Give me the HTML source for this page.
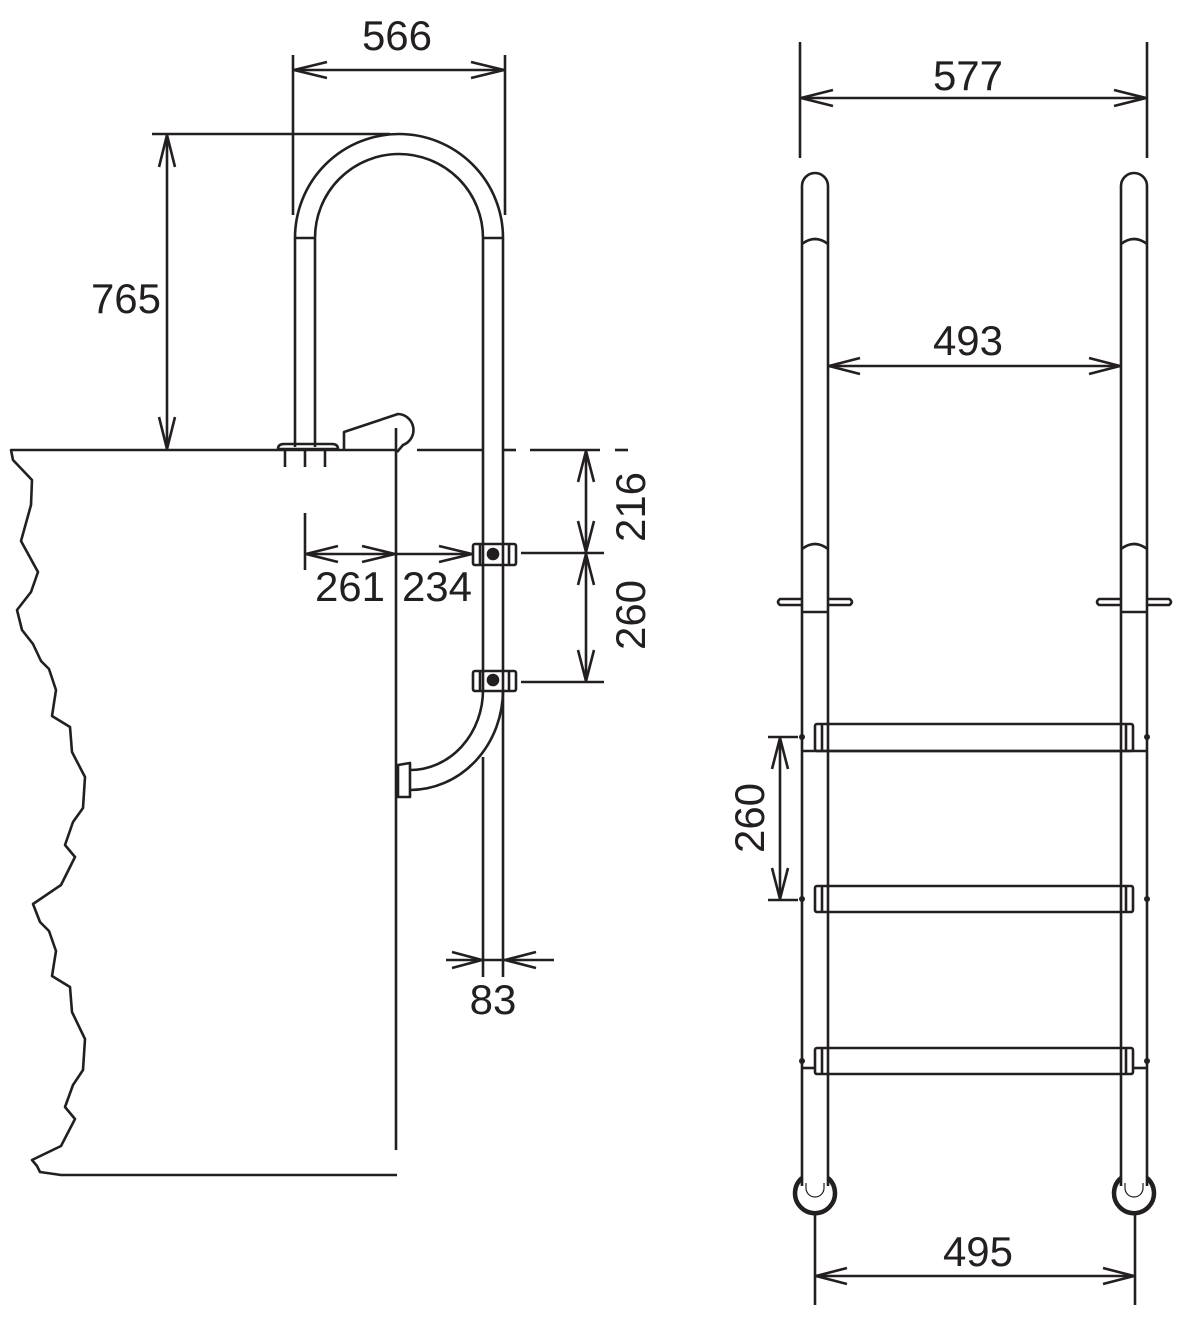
<!DOCTYPE html>
<html><head><meta charset="utf-8"><style>
html,body{margin:0;padding:0;background:#fff}
svg{display:block}
text{font-family:"Liberation Sans",Arial,sans-serif;font-size:42px;fill:#231f20}
</style></head><body>
<svg width="1183" height="1322" viewBox="0 0 1183 1322" xmlns="http://www.w3.org/2000/svg">
<g fill="none" stroke="#231f20" stroke-width="2.6" stroke-linejoin="round">
<polyline points="397,450 11,450 13,460 32,480 31,505 21,541 38,572 31,592 17,610 22,630 33,644 41,661 49,669 56,690 52,716 70,727 72,752 85,777 83,808 73,822 65,845 75,857 61,885 33,904 40,922 49,931 56,951 52,976 70,987 72,1012 85,1039 83,1070 73,1085 65,1107 75,1119 61,1146 32,1160 37,1166 40,1172 61,1175 397,1175"/>
<line x1="396" y1="428" x2="396" y2="1150"/>
<line x1="417" y1="450" x2="484" y2="450"/>
<line x1="502" y1="450" x2="516" y2="450"/>
<line x1="530" y1="450" x2="600" y2="450"/>
<line x1="615" y1="450" x2="628" y2="450"/>
<path d="M295,447 L295,238 A104,104 0 0 1 503,238 L503,977"/>
<path d="M315,447 L315,238 A84,84 0 0 1 483,238 L483,690"/>
<line x1="295" y1="238" x2="315" y2="238"/>
<line x1="483" y1="238" x2="503" y2="238"/>
<line x1="483" y1="757" x2="483" y2="977"/>
<path d="M483,690 A73,80 0 0 1 410,770"/>
<path d="M503,690 A93,100 0 0 1 410,790"/>
<path d="M398,765 L410,763 L410,797 L398,797 Z"/>
<path d="M278,449 Q278,444 284,444 L332,444 Q338,444 338,449 Z"/>
<line x1="285" y1="450" x2="285" y2="467"/>
<line x1="305" y1="450" x2="305" y2="467"/>
<line x1="325" y1="450" x2="325" y2="467"/>
<path d="M344,450 L344,432 L398,414 A16,16 0 0 1 403,445 L397,452"/>
<rect x="473" y="544" width="43" height="21" rx="2"/>
<line x1="480" y1="544" x2="480" y2="565"/><line x1="509" y1="544" x2="509" y2="565"/>
<circle cx="493" cy="554" r="5" fill="#231f20"/>
<rect x="473" y="671" width="43" height="20" rx="2"/>
<line x1="480" y1="671" x2="480" y2="691"/><line x1="509" y1="671" x2="509" y2="691"/>
<circle cx="493" cy="680" r="5" fill="#231f20"/>
<line x1="293" y1="55" x2="293" y2="215"/>
<line x1="505" y1="55" x2="505" y2="215"/>
<line x1="293" y1="70" x2="505" y2="70"/>
<polyline points="327,62 294,70 327,78"/><polyline points="471,62 504,70 471,78"/>
<line x1="152" y1="134" x2="390" y2="134"/>
<line x1="167" y1="134" x2="167" y2="450"/>
<polyline points="159,167 167,135 175,167"/><polyline points="159,417 167,449 175,417"/>
<line x1="305" y1="513" x2="305" y2="570"/>
<line x1="305" y1="554" x2="472" y2="554"/>
<polyline points="338,546 306,554 338,562"/>
<polyline points="362,546 395,554 362,562"/>
<polyline points="439,546 472,554 439,562"/>
<line x1="521" y1="553" x2="604" y2="553"/>
<line x1="521" y1="682" x2="604" y2="682"/>
<line x1="586" y1="450" x2="586" y2="682"/>
<polyline points="578,482 586,451 594,482"/>
<polyline points="578,521 586,552 594,521"/>
<polyline points="578,585 586,554 594,585"/>
<polyline points="578,650 586,681 594,650"/>
<line x1="446" y1="960" x2="554" y2="960"/>
<polyline points="452,952 482,960 452,968"/>
<polyline points="536,952 505,960 536,968"/>

<line x1="800" y1="42" x2="800" y2="158"/>
<line x1="1147" y1="42" x2="1147" y2="158"/>
<line x1="800" y1="98" x2="1147" y2="98"/>
<polyline points="833,90 801,98 833,106"/><polyline points="1114,90 1146,98 1114,106"/>
<path d="M802,1186 L802,186 A13,13 0 0 1 828,186 L828,1186"/>
<path d="M1121,1186 L1121,186 A13,13 0 0 1 1147,186 L1147,1186"/>
<path d="M806,1183 L806,1188 A9,9 0 0 0 824,1188 L824,1183" stroke-width="1.2"/>
<path d="M1125,1183 L1125,1188 A9,9 0 0 0 1143,1188 L1143,1183" stroke-width="1.2"/>
<path d="M802,1178 A20,20 0 1 0 828,1178" stroke-width="4.5"/>
<path d="M1121,1178 A20,20 0 1 0 1147,1178" stroke-width="4.5"/>
<path d="M802,244 Q815,234 828,244"/><path d="M1121,244 Q1134,234 1147,244"/>
<path d="M802,549 Q815,539 828,549"/><path d="M1121,549 Q1134,539 1147,549"/>
<path d="M802,599 L780,599 Q776,602 780,605 L802,605 M828,599 L850,599 Q854,602 850,605 L828,605"/>
<path d="M1121,599 L1099,599 Q1095,602 1099,605 L1121,605 M1147,599 L1169,599 Q1173,602 1169,605 L1147,605"/>
<line x1="802" y1="612" x2="828" y2="612"/><line x1="1121" y1="612" x2="1147" y2="612"/>
<line x1="828" y1="366" x2="1121" y2="366"/>
<polyline points="860,358 829,366 860,374"/><polyline points="1089,358 1120,366 1089,374"/>
<rect x="815" y="724" width="318" height="27" rx="2"/>
<line x1="822" y1="724" x2="822" y2="751"/><line x1="1126" y1="724" x2="1126" y2="751"/>
<line x1="802" y1="751" x2="1147" y2="751"/>
<rect x="815" y="886" width="318" height="26" rx="2"/>
<line x1="822" y1="886" x2="822" y2="912"/><line x1="1126" y1="886" x2="1126" y2="912"/>
<rect x="815" y="1048" width="318" height="26" rx="2"/>
<line x1="822" y1="1048" x2="822" y2="1074"/><line x1="1126" y1="1048" x2="1126" y2="1074"/>
<line x1="802" y1="1068" x2="815" y2="1068"/><line x1="1133" y1="1068" x2="1147" y2="1068"/>
<line x1="768" y1="737" x2="798" y2="737"/>
<line x1="768" y1="900" x2="798" y2="900"/>
<line x1="780" y1="737" x2="780" y2="900"/>
<polyline points="772,769 780,738 788,769"/><polyline points="772,868 780,899 788,868"/>
<line x1="815" y1="1212" x2="815" y2="1305"/>
<line x1="1135" y1="1212" x2="1135" y2="1305"/>
<line x1="815" y1="1276" x2="1135" y2="1276"/>
<polyline points="847,1268 816,1276 847,1284"/><polyline points="1103,1268 1134,1276 1103,1284"/>
</g>
<g fill="#231f20">
<circle cx="802" cy="737" r="3"/><circle cx="1147" cy="737" r="3"/>
<circle cx="802" cy="899" r="3"/><circle cx="1147" cy="899" r="3"/>
<circle cx="802" cy="1061" r="3"/><circle cx="1147" cy="1061" r="3"/>
</g>
<text x="397" y="50" text-anchor="middle">566</text>
<text x="126" y="313" text-anchor="middle">765</text>
<text x="350" y="601" text-anchor="middle">261</text>
<text x="437" y="601" text-anchor="middle">234</text>
<text x="493" y="1014" text-anchor="middle">83</text>
<text transform="translate(645,507) rotate(-90)" text-anchor="middle">216</text>
<text transform="translate(645,615) rotate(-90)" text-anchor="middle">260</text>
<text x="968" y="90" text-anchor="middle">577</text>
<text x="968" y="355" text-anchor="middle">493</text>
<text transform="translate(764,818) rotate(-90)" text-anchor="middle">260</text>
<text x="978" y="1266" text-anchor="middle">495</text>
</svg>
</body></html>
